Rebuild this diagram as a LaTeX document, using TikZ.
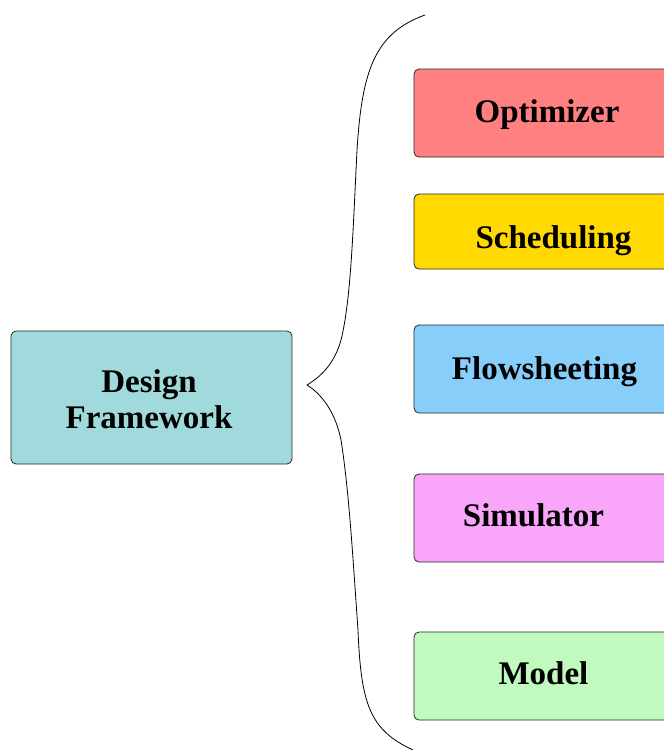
\documentclass[tikz,border=0pt]{standalone}
\usepackage{fontspec}
\setmainfont{Liberation Serif}
\definecolor{frameteal}{RGB}{161,218,220}
\definecolor{optred}{RGB}{255,128,128}
\definecolor{schedgold}{RGB}{255,217,0}
\definecolor{flowblue}{RGB}{135,206,250}
\definecolor{simpink}{RGB}{249,166,250}
\definecolor{modelgreen}{RGB}{192,250,190}
\begin{document}
\begin{tikzpicture}[x=1pt,y=-1pt,
  box/.style={draw=black!85, line width=0.8pt, rounded corners=5pt,
              inner sep=0pt, outer sep=0pt},
  lbl/.style={font=\fontsize{33}{36}\selectfont\bfseries, anchor=base,
              inner sep=0pt}]
\useasboundingbox (0,0) rectangle (664,750);
\clip (0,0) rectangle (664,750);

% left box
\node[box, fill=frameteal, minimum width=281pt, minimum height=133pt]
  (design) at (151.5,397.5) {};
\node[lbl] (designA) at (149,392) {Design};
\node[lbl] (designB) at (149,428) {Framework};

% right column of components (running off the right edge)
\node[box, fill=optred, minimum width=276pt, minimum height=88pt]
  (opt) at (552,113) {};
\node[lbl] (optL) at (547,122.5) {Optimizer};

\node[box, fill=schedgold, minimum width=276pt, minimum height=75pt]
  (sched) at (552,231.5) {};
\node[lbl] (schedL) at (553.5,248.3) {Scheduling};

\node[box, fill=flowblue, minimum width=276pt, minimum height=88pt]
  (flow) at (552,369) {};
\node[lbl] (flowL) at (544.5,379.3) {Flowsheeting};

\node[box, fill=simpink, minimum width=276pt, minimum height=88pt]
  (sim) at (552,518) {};
\node[lbl] (simL) at (533.5,526) {Simulator};

\node[box, fill=modelgreen, minimum width=276pt, minimum height=88pt]
  (model) at (552,676) {};
\node[lbl] (modelL) at (543.5,684) {Model};

% curly brace grouping the components
\coordinate (braceTop) at (425,15);
\coordinate (braceTip) at (307,385);
\coordinate (braceBot) at (413,750);
\draw[line width=0.8pt, black]
  (braceTop) .. controls (375,33) and (362,70) .. (357,150)
  .. controls (353,230) and (351,300) .. (341,340)
  .. controls (334,365) and (320,377) .. (braceTip)
  .. controls (320,393) and (335,410) .. (341,440)
  .. controls (349,490) and (353,560) .. (358,630)
  .. controls (361,705) and (370,730) .. (braceBot);
\end{tikzpicture}
\end{document}
